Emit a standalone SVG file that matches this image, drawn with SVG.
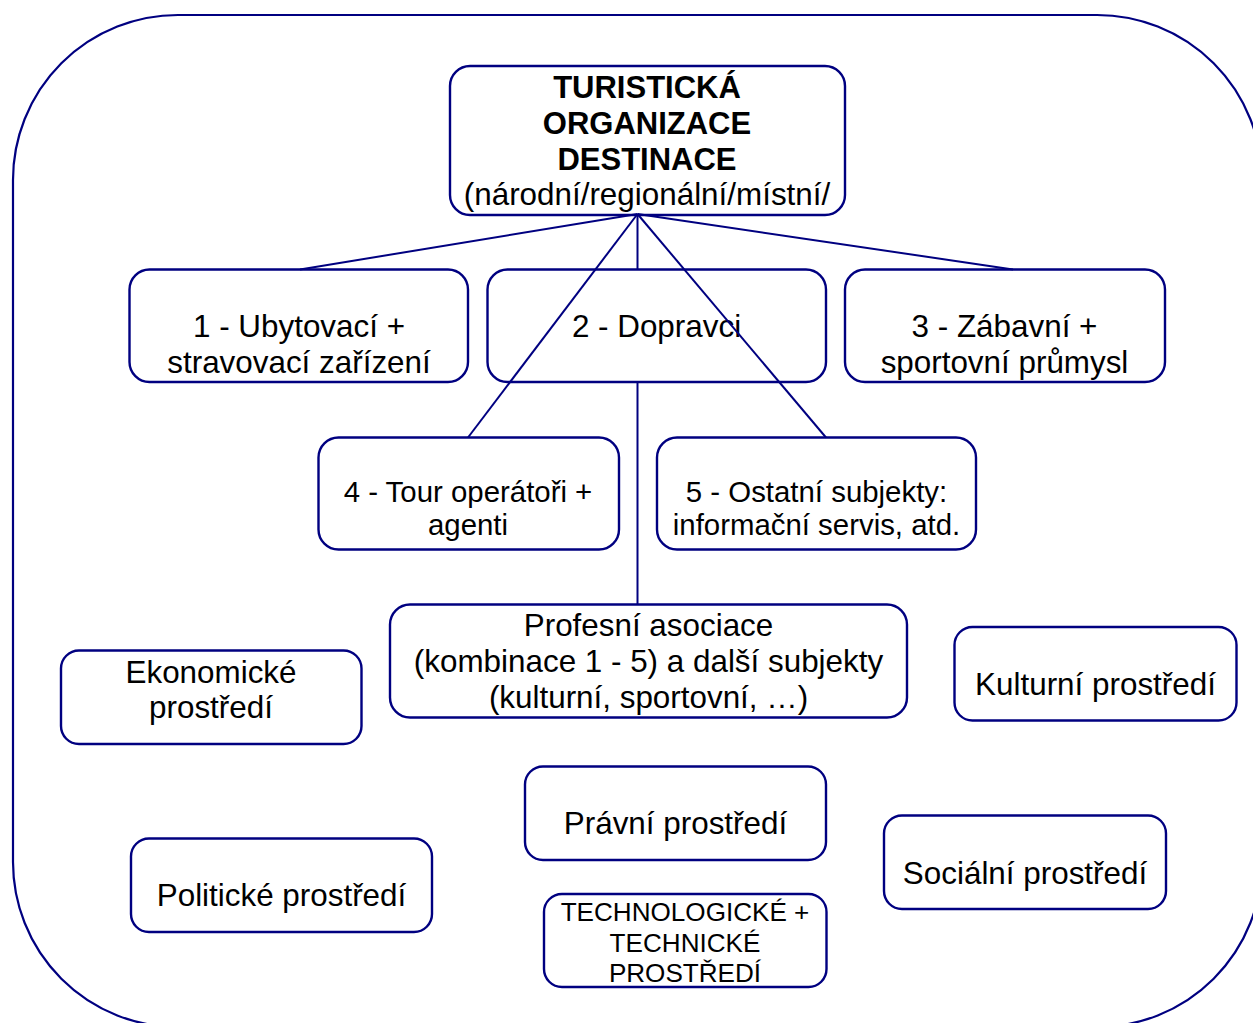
<svg xmlns="http://www.w3.org/2000/svg" width="1253" height="1023" viewBox="0 0 1253 1023">
  <style>
    .frame { fill: none; stroke: #000080; stroke-width: 2.2; }
    .box { fill: #ffffff; stroke: #000080; stroke-width: 2.4; }
    .link { fill: none; stroke: #000080; stroke-width: 2; }
    text { font-family: "Liberation Sans", Arial, sans-serif; fill: #000000; text-anchor: middle; }
    .t31 { font-size: 31.4px; }
    .t28 { font-size: 29.4px; }
    .t26 { font-size: 26.1px; }
    .bold { font-weight: bold; font-size: 31px; }
  </style>

  <rect width="1253" height="1023" fill="#ffffff"/>

  <!-- surrounding environment frame -->
  <rect class="frame" x="13" y="15" width="1249" height="1012" rx="165" ry="165"/>

  <g id="tod">
    <rect class="box" x="450" y="66" width="395" height="149" rx="20"/>
    <text class="bold" x="647" y="98">TURISTICKÁ</text>
    <text class="bold" x="647" y="134">ORGANIZACE</text>
    <text class="bold" x="647" y="170">DESTINACE</text>
    <text class="t31" x="647" y="205">(národní/regionální/místní/</text>
  </g>

  <g id="ubytovaci">
    <rect class="box" x="129.5" y="269.5" width="338.5" height="112.5" rx="20"/>
    <text class="t31" x="299" y="337">1 - Ubytovací +</text>
    <text class="t31" x="299" y="373">stravovací zařízení</text>
  </g>

  <g id="dopravci">
    <rect class="box" x="487.5" y="269.5" width="338.5" height="112.5" rx="20"/>
    <text class="t31" x="656.5" y="337">2 - Dopravci</text>
  </g>

  <g id="zabavni">
    <rect class="box" x="845" y="269.5" width="320" height="112.5" rx="20"/>
    <text class="t31" x="1004.5" y="337">3 - Zábavní +</text>
    <text class="t31" x="1004.5" y="373">sportovní průmysl</text>
  </g>

  <g id="touroperatori">
    <rect class="box" x="318.5" y="437.5" width="300.5" height="112" rx="20"/>
    <text class="t28" x="468" y="502">4 - Tour operátoři +</text>
    <text class="t28" x="468" y="535">agenti</text>
  </g>

  <g id="ostatni">
    <rect class="box" x="657" y="437.5" width="319" height="112" rx="20"/>
    <text class="t28" x="816.5" y="502">5 - Ostatní subjekty:</text>
    <text class="t28" x="816.5" y="535">informační servis, atd.</text>
  </g>

  <g id="profesni">
    <rect class="box" x="390" y="604.5" width="517" height="113" rx="20"/>
    <text class="t31" x="648.5" y="636">Profesní asociace</text>
    <text class="t31" x="648.5" y="672">(kombinace 1 - 5) a další subjekty</text>
    <text class="t31" x="648.5" y="708">(kulturní, sportovní, …)</text>
  </g>

  <g id="ekonomicke">
    <rect class="box" x="61" y="650.5" width="300.5" height="93.5" rx="18"/>
    <text class="t31" x="211" y="683">Ekonomické</text>
    <text class="t31" x="211" y="718">prostředí</text>
  </g>

  <g id="kulturni">
    <rect class="box" x="954.5" y="627" width="282" height="93.5" rx="18"/>
    <text class="t31" x="1095.5" y="695">Kulturní prostředí</text>
  </g>

  <g id="pravni">
    <rect class="box" x="525" y="766.5" width="301" height="93.5" rx="18"/>
    <text class="t31" x="675.5" y="834">Právní prostředí</text>
  </g>

  <g id="politicke">
    <rect class="box" x="131" y="838.5" width="301" height="93.5" rx="18"/>
    <text class="t31" x="281.5" y="906">Politické prostředí</text>
  </g>

  <g id="socialni">
    <rect class="box" x="884" y="815.5" width="282" height="93.5" rx="18"/>
    <text class="t31" x="1025" y="884">Sociální prostředí</text>
  </g>

  <g id="technologicke">
    <rect class="box" x="544" y="894" width="282.5" height="93" rx="18"/>
    <text class="t26" x="685" y="921">TECHNOLOGICKÉ +</text>
    <text class="t26" x="685" y="951.5">TECHNICKÉ</text>
    <text class="t26" x="685" y="981.5">PROSTŘEDÍ</text>
  </g>

  <!-- connectors from the destination organisation -->
  <g id="connectors">
    <line class="link" x1="637.5" y1="214" x2="300" y2="269.5"/>
    <line class="link" x1="637.5" y1="214" x2="637.5" y2="269.5"/>
    <line class="link" x1="637.5" y1="214" x2="1013" y2="269.5"/>
    <line class="link" x1="637.5" y1="214" x2="468" y2="437.5"/>
    <line class="link" x1="637.5" y1="214" x2="826" y2="437.5"/>
    <line class="link" x1="637.5" y1="382" x2="637.5" y2="604.5"/>
  </g>
</svg>
